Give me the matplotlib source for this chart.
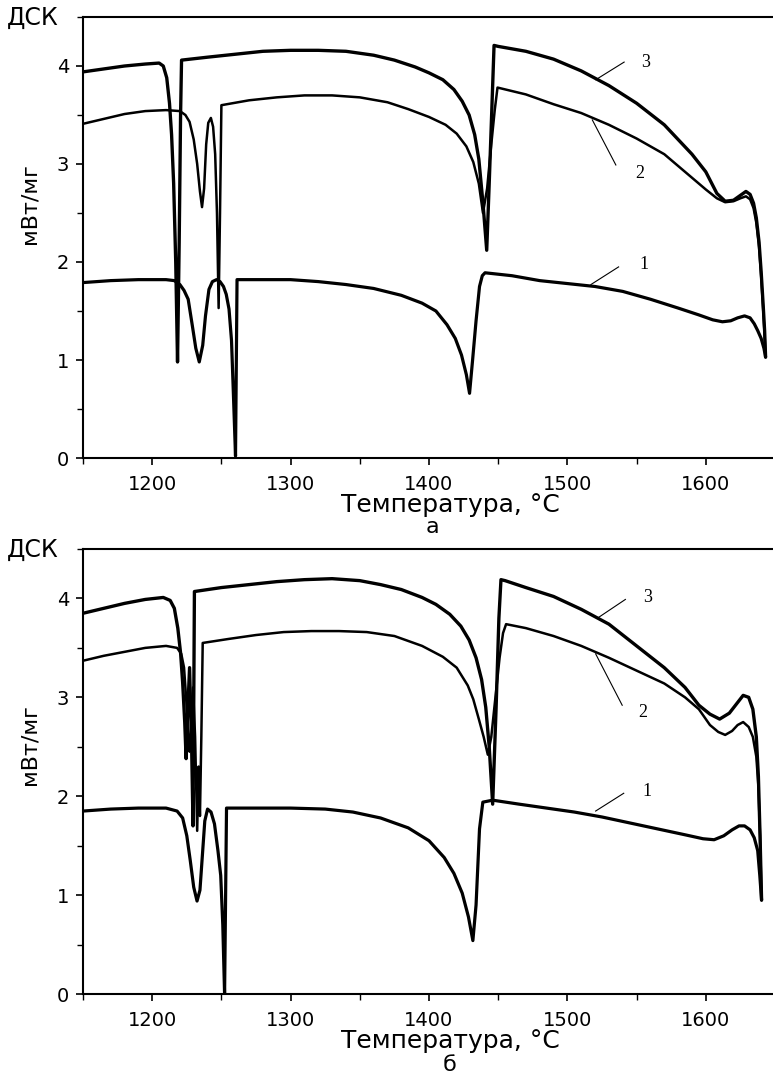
import matplotlib
matplotlib.use("Agg")
import matplotlib.pyplot as plt
from matplotlib.ticker import MultipleLocator

# ---------------- data ----------------
# Panel а
a3_T = [1150, 1165, 1180, 1195, 1205, 1208, 1210.5, 1212.5, 1214, 1215.5, 1217, 1218.3, 1219.5, 1220.5, 1221.2,
        1240, 1260, 1280, 1300, 1320, 1340, 1360, 1375, 1390, 1400, 1410, 1418, 1424, 1429, 1433, 1436, 1439,
        1441.7, 1443.5, 1445.5, 1447, 1450, 1470, 1490, 1510, 1530, 1550, 1570, 1590, 1600, 1608, 1614, 1620,
        1625, 1629, 1632, 1634.5, 1636.5, 1638.5, 1640, 1641.5, 1642.5, 1643.2]
a3_v = [3.94, 3.97, 4.00, 4.02, 4.03, 4.00, 3.88, 3.62, 3.30, 2.80, 2.00, 0.98, 2.20, 3.50, 4.06,
        4.09, 4.12, 4.15, 4.16, 4.16, 4.15, 4.11, 4.06, 3.99, 3.93, 3.86, 3.76, 3.64, 3.50, 3.30, 3.05, 2.60,
        2.12, 2.80, 3.60, 4.21, 4.20, 4.15, 4.07, 3.95, 3.80, 3.62, 3.40, 3.10, 2.92, 2.70, 2.62, 2.63,
        2.68, 2.72, 2.69, 2.60, 2.45, 2.20, 1.90, 1.55, 1.30, 1.03]

a2_T = [1150, 1165, 1180, 1195, 1210, 1220, 1224, 1227, 1230, 1232.5, 1234.5, 1236, 1237.5, 1239, 1240.5, 1242.4,
        1244, 1245.5, 1246.8, 1248, 1249, 1250, 1270, 1290, 1310, 1330, 1350, 1370, 1385, 1400, 1412, 1420,
        1427, 1432, 1436, 1439, 1442, 1445, 1447.5, 1449.5, 1470, 1490, 1510, 1530, 1550, 1570, 1590, 1600,
        1608, 1614, 1620, 1625, 1629, 1632, 1634.5, 1636.5, 1638.5, 1640, 1641.5, 1642.5, 1643.2]
a2_v = [3.41, 3.46, 3.51, 3.54, 3.55, 3.54, 3.50, 3.43, 3.25, 3.00, 2.72, 2.56, 2.75, 3.20, 3.42, 3.47,
        3.38, 3.10, 2.50, 1.53, 2.50, 3.60, 3.65, 3.68, 3.70, 3.70, 3.68, 3.63, 3.56, 3.48, 3.40, 3.31,
        3.18, 3.02, 2.80, 2.50, 2.75, 3.20, 3.55, 3.78, 3.71, 3.61, 3.52, 3.40, 3.26, 3.10, 2.86, 2.74,
        2.65, 2.61, 2.62, 2.65, 2.67, 2.64, 2.55, 2.40, 2.15, 1.85, 1.50, 1.25, 1.03]

a1_T = [1150, 1170, 1190, 1210, 1216, 1220, 1223, 1226, 1229, 1231.5, 1234, 1236.5, 1238.5, 1241, 1243.5, 1246.5,
        1249, 1251.5, 1253.5, 1255.5, 1257.3, 1258.8, 1260.2, 1261.3, 1280, 1300, 1320, 1340, 1360, 1380, 1395,
        1405, 1413, 1419, 1423.5, 1427, 1429.3, 1431.5, 1434, 1436.5, 1438.5, 1440.5, 1460, 1480, 1500, 1520,
        1540, 1560, 1580, 1595, 1605, 1612, 1618, 1623, 1628, 1632, 1635, 1637.5, 1640, 1642, 1643.2]
a1_v = [1.79, 1.81, 1.82, 1.82, 1.81, 1.77, 1.71, 1.62, 1.35, 1.12, 0.98, 1.15, 1.45, 1.72, 1.80, 1.82,
        1.80, 1.75, 1.67, 1.52, 1.20, 0.60, 0.02, 1.82, 1.82, 1.82, 1.80, 1.77, 1.73, 1.66, 1.58,
        1.50, 1.36, 1.22, 1.05, 0.85, 0.66, 1.00, 1.40, 1.75, 1.86, 1.89, 1.86, 1.81, 1.78, 1.75,
        1.70, 1.62, 1.53, 1.46, 1.41, 1.39, 1.40, 1.43, 1.45, 1.43, 1.37, 1.30, 1.22, 1.12, 1.03]

# Panel б
b3_T = [1150, 1165, 1180, 1195, 1208, 1213, 1216, 1218.5, 1220.5, 1222, 1223.5, 1224.5, 1225.5, 1227, 1228.5,
        1229.5, 1230.5, 1250, 1270, 1290, 1310, 1330, 1350, 1365, 1380, 1395, 1405, 1415, 1423, 1429, 1434,
        1438, 1441, 1443.5, 1446, 1448.5, 1450.5, 1452, 1455, 1470, 1490, 1510, 1530, 1550, 1570, 1585,
        1595, 1603, 1610, 1617, 1622, 1627, 1631, 1634, 1636.5, 1638, 1639.2, 1640.3]
b3_v = [3.85, 3.90, 3.95, 3.99, 4.01, 3.98, 3.90, 3.70, 3.45, 3.15, 2.75, 2.38, 2.80, 3.30, 2.50,
        1.70, 4.07, 4.11, 4.14, 4.17, 4.19, 4.20, 4.18, 4.14, 4.09, 4.01, 3.94, 3.84, 3.72, 3.58, 3.40,
        3.18, 2.90, 2.50, 1.92, 2.90, 3.80, 4.19, 4.18, 4.11, 4.02, 3.89, 3.74, 3.52, 3.30, 3.10,
        2.92, 2.83, 2.78, 2.84, 2.93, 3.02, 3.00, 2.88, 2.60, 2.20, 1.60, 0.95]

b2_T = [1150, 1165, 1180, 1195, 1210, 1218, 1221, 1223, 1224.5, 1226, 1227, 1228, 1229.5, 1231, 1232.5, 1233.5,
        1234.5, 1235.5, 1236.5, 1255, 1275, 1295, 1315, 1335, 1355, 1375, 1395, 1410, 1420, 1428, 1432,
        1436, 1439.5, 1442.5, 1445, 1448, 1451, 1453.5, 1455.7, 1470, 1490, 1510, 1530, 1550, 1570, 1585,
        1595, 1603, 1609, 1614, 1619, 1623, 1627, 1631, 1634, 1636.5, 1638, 1639.2, 1640.3]
b2_v = [3.37, 3.42, 3.46, 3.50, 3.52, 3.50, 3.44, 3.30, 3.00, 2.60, 2.45, 2.70, 3.10, 2.60, 1.65, 2.30,
        1.80, 2.60, 3.55, 3.59, 3.63, 3.66, 3.67, 3.67, 3.66, 3.62, 3.52, 3.41, 3.30, 3.12, 2.98,
        2.78, 2.60, 2.42, 2.60, 3.00, 3.40, 3.65, 3.74, 3.70, 3.62, 3.52, 3.40, 3.27, 3.14, 3.00,
        2.88, 2.72, 2.65, 2.62, 2.66, 2.72, 2.75, 2.70, 2.60, 2.40, 2.10, 1.60, 0.95]

b1_T = [1150, 1170, 1190, 1210, 1218, 1222, 1225, 1227.5, 1230, 1232.4, 1234.5, 1236.5, 1238, 1240, 1242.5,
        1245, 1247.5, 1249.5, 1251, 1252.3, 1253.7, 1275, 1300, 1325, 1345, 1365, 1385, 1400, 1411, 1418,
        1424, 1428.5, 1431.7, 1434, 1436.5, 1438.9, 1446, 1465, 1485, 1505, 1525, 1545, 1565, 1585, 1598,
        1606, 1613, 1619, 1624, 1628, 1632, 1635, 1637.5, 1639, 1640.3]
b1_v = [1.85, 1.87, 1.88, 1.88, 1.85, 1.78, 1.60, 1.35, 1.08, 0.94, 1.05, 1.45, 1.75, 1.87, 1.84,
        1.72, 1.45, 1.20, 0.70, 0.00, 1.88, 1.88, 1.88, 1.87, 1.84, 1.78, 1.68, 1.55, 1.38, 1.22,
        1.02, 0.78, 0.54, 0.90, 1.67, 1.94, 1.96, 1.92, 1.88, 1.84, 1.79, 1.73, 1.67, 1.61, 1.57,
        1.56, 1.60, 1.66, 1.70, 1.70, 1.66, 1.58, 1.45, 1.20, 0.95]

curve_labels = ["1", "2", "3"]
x_ticks = [1200, 1300, 1400, 1500, 1600]
y_ticks = [0, 1, 2, 3, 4]
panel_letters = ["а", "б"]
x_label = "Температура, °C"
y_label = "мВт/мг"
corner_label = "ДСК"

# ---------------- figure ----------------
W, H = 773, 1078
plt.rcParams['font.family'] = ['DejaVu Sans']
fig = plt.figure(figsize=(W / 100, H / 100), dpi=100)


def px_box(left, top, right, bottom):
    return [left / W, 1 - bottom / H, (right - left) / W, (bottom - top) / H]


axA = fig.add_axes(px_box(83, 17, 775, 458))
axB = fig.add_axes(px_box(83, 549, 775, 994))

panels = [
    (axA, [(a1_T, a1_v, 2.3), (a2_T, a2_v, 1.8), (a3_T, a3_v, 2.4)],
     [((1552, 1.97), (1537, 1.95), (1517, 1.77)),
      ((1549, 2.90), (1535, 2.99), (1518, 3.45)),
      ((1553, 4.04), (1541, 4.04), (1520.5, 3.86))]),
    (axB, [(b1_T, b1_v, 2.3), (b2_T, b2_v, 1.8), (b3_T, b3_v, 2.4)],
     [((1554, 2.05), (1540.7, 2.03), (1520.4, 1.85)),
      ((1551.5, 2.85), (1539.6, 2.92), (1520.4, 3.44)),
      ((1555, 4.01), (1541.9, 3.99), (1522.7, 3.81))]),
]

for ax, curves, labs in panels:
    for T, v, lw in curves:
        ax.plot(T, v, color='black', lw=lw, solid_joinstyle='round', solid_capstyle='round')
    for name, (txt, p0, p1) in zip(curve_labels, labs):
        ax.plot([p0[0], p1[0]], [p0[1], p1[1]], color='black', lw=0.8)
        ax.text(txt[0], txt[1], name, family='Liberation Serif', fontsize=13,
                ha='left', va='center')
    ax.set_xlim(1150, 1650)
    ax.set_ylim(0, 4.5)
    ax.set_xticks(x_ticks)
    ax.set_yticks(y_ticks)
    ax.xaxis.set_minor_locator(MultipleLocator(50))
    ax.yaxis.set_minor_locator(MultipleLocator(0.5))
    ax.tick_params(which='major', direction='out', length=5, width=1.2, labelsize=14, pad=5)
    ax.tick_params(which='minor', direction='out', length=4, width=1.0)
    ax.tick_params(axis='x', pad=7)
    for s in ['left', 'top', 'bottom']:
        ax.spines[s].set_linewidth(1.5)
    ax.spines['right'].set_visible(False)


def ftext(x, y, s, **kw):
    fig.text(x / W, 1 - y / H, s, ha='center', va='center', **kw)


for (ytop_px, ylab_px, xlab_px, let_px, let_x, letter) in [
        (18, 204, 505, 527, 432, panel_letters[0]),
        (550, 745, 1041, 1065, 450, panel_letters[1])]:
    ftext(33, ytop_px, corner_label, fontsize=17)
    ftext(30, ylab_px, y_label, fontsize=16, rotation=90)
    ftext(450, xlab_px, x_label, fontsize=18)
    ftext(let_x, let_px, letter, fontsize=16)

fig.savefig("out.png", dpi=100)
